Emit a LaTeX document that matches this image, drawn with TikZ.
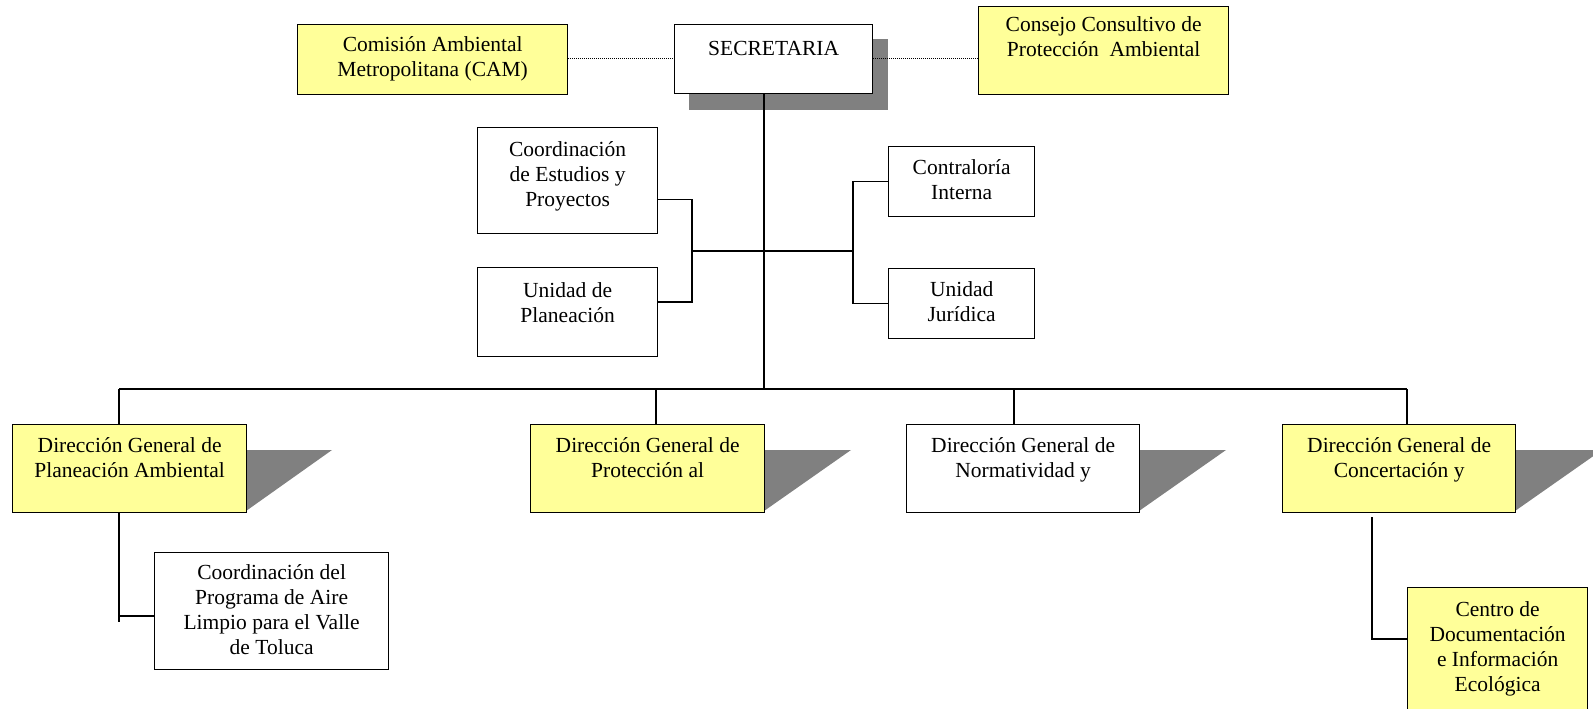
\documentclass[tikz,border=0pt]{standalone}
\usepackage{fontspec}
\setmainfont{Liberation Serif}
\usetikzlibrary{calc}
\definecolor{boxyellow}{HTML}{FFFF99}
\definecolor{shadowgray}{HTML}{808080}
\begin{document}
\begin{tikzpicture}[x=1pt,y=-1pt,
  box/.style={draw=black, line width=1.3pt, fill=white, rectangle, inner sep=0pt, anchor=north west},
  ybox/.style={box, fill=boxyellow},
  txt/.style={font=\fontsize{21.5}{25}\selectfont, align=center, anchor=north, inner sep=0pt, execute at begin node={\strut}},
  link/.style={draw=black, line width=1.3pt},
  dotlink/.style={draw=black, line width=1pt, dash pattern=on 1pt off 1pt},
  shade/.style={fill=shadowgray, draw=none}]
\useasboundingbox (0,0) rectangle (1593,709);
\clip (0,0) rectangle (1593,709);

% shadows
\fill[shade] (689,39) rectangle (888,110);
\fill[shade] (246,450) -- (332,450) -- (246,511) -- cycle;
\fill[shade] (764,450) -- (851,450) -- (764,511) -- cycle;
\fill[shade] (1139,450) -- (1226,450) -- (1139,511) -- cycle;
\fill[shade] (1515,450) -- (1602,450) -- (1515,511) -- cycle;

% boxes
\node[ybox, minimum width=270, minimum height=70] (cam) at (297,24) {};
\node[box, minimum width=198, minimum height=69] (sec) at (674,24) {};
\node[ybox, minimum width=250, minimum height=88] (cons) at (978,6) {};
\node[box, minimum width=180, minimum height=106] (coord) at (477,127) {};
\node[box, minimum width=180, minimum height=89] (unip) at (477,267) {};
\node[box, minimum width=146, minimum height=70] (contr) at (888,146) {};
\node[box, minimum width=146, minimum height=70] (jur) at (888,268) {};
\node[ybox, minimum width=234, minimum height=88] (dpa) at (12,424) {};
\node[ybox, minimum width=234, minimum height=88] (dpr) at (530,424) {};
\node[box, minimum width=233, minimum height=88] (dno) at (906,424) {};
\node[ybox, minimum width=233, minimum height=88] (dco) at (1282,424) {};
\node[box, minimum width=234, minimum height=117] (aire) at (154,552) {};
\node[ybox, minimum width=180, minimum height=135] (centro) at (1407,587) {};

% junction coordinates
\coordinate (bus) at (764,389);
\coordinate (lj) at (692,251);
\coordinate (rj) at (853,251);
\coordinate (d1) at (119,389);
\coordinate (d2) at (656,389);
\coordinate (d3) at (1014,389);
\coordinate (d4) at (1407,389);
\coordinate (a1) at (119,622);
\coordinate (aj) at ($(aire.north west)+(0,64)$);
\coordinate (c1) at (1372,517);
\coordinate (cj) at ($(centro.north west)+(0,52)$);
\coordinate (cs) at ($(coord.south east)+(0,-35)$);
\coordinate (us) at ($(unip.north east)+(0,35)$);

% connectors
\draw[dotlink] (cam.east |- 0,59) -- (sec.west |- 0,59);
\draw[dotlink] (sec.east |- 0,59) -- (cons.west |- 0,59);
\draw[link] (sec.south -| bus) -- (bus);
\draw[link] (cs) -| (lj) |- (us);
\draw[link] (lj) -- (rj);
\draw[link] (contr.west) -| (rj) |- (jur.west);
\draw[link] (d1) -- (d4);
\draw[link] (d1) -- (d1 |- dpa.north);
\draw[link] (d2) -- (d2 |- dpr.north);
\draw[link] (d3) -- (d3 |- dno.north);
\draw[link] (d4) -- (d4 |- dco.north);
\draw[link] (dpa.south -| a1) -- (a1);
\draw[link] (aj) -- (aj -| a1);
\draw[link] (c1) |- (cj);

% texts
\node[txt] (tcam) at ($(cam.north)+(0,12.5)$) {Comisión Ambiental\\Metropolitana (CAM)};
\node[txt] (tsec) at ($(sec.north)+(0,13.5)$) {SECRETARIA};
\node[txt] (tcons) at ($(cons.north)+(0,10.5)$) {Consejo Consultivo de\\Protección\ \ Ambiental};
\node[txt] (tcoord) at ($(coord.north)+(0,14.5)$) {Coordinación\\de Estudios y\\Proyectos};
\node[txt] (tunip) at ($(unip.north)+(0,15.5)$) {Unidad de\\Planeación};
\node[txt] (tcontr) at ($(contr.north)+(0,13.5)$) {Contraloría\\Interna};
\node[txt] (tjur) at ($(jur.north)+(0,13.5)$) {Unidad\\Jurídica};
\node[txt] (tdpa) at ($(dpa.north)+(0,13.5)$) {Dirección General de\\Planeación Ambiental};
\node[txt] (tdpr) at ($(dpr.north)+(0,13.5)$) {Dirección General de\\Protección al};
\node[txt] (tdno) at ($(dno.north)+(0,13.5)$) {Dirección General de\\Normatividad y};
\node[txt] (tdco) at ($(dco.north)+(0,13.5)$) {Dirección General de\\Concertación y};
\node[txt] (taire) at ($(aire.north)+(0,12.5)$) {Coordinación del\\Programa de Aire\\Limpio para el Valle\\de Toluca};
\node[txt] (tcentro) at ($(centro.north)+(0,14.5)$) {Centro de\\Documentación\\e Información\\Ecológica};
\end{tikzpicture}
\end{document}
